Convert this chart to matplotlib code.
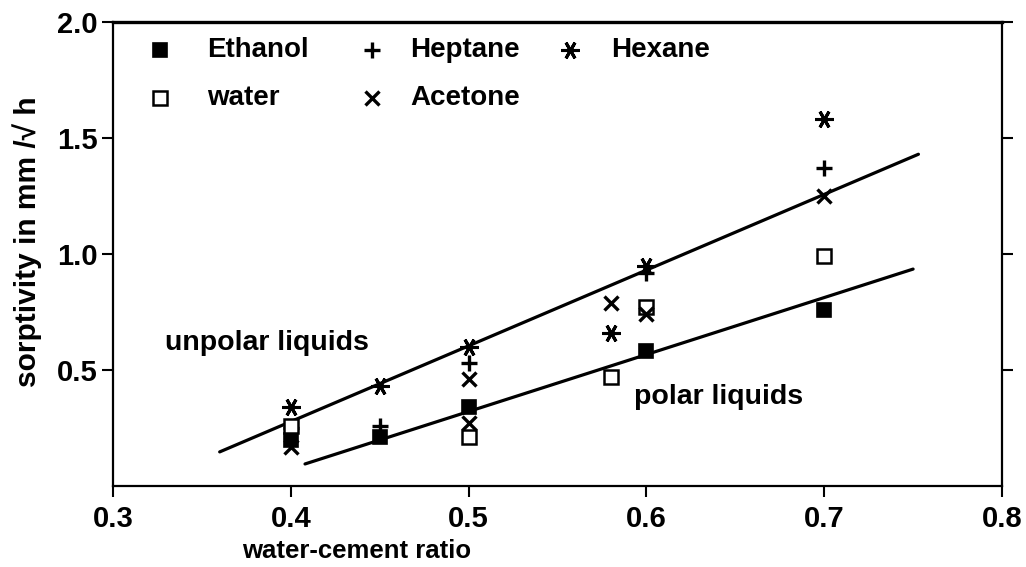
import matplotlib
matplotlib.use("Agg")
import matplotlib.pyplot as plt

plt.rcParams['font.family'] = ['Liberation Sans', 'DejaVu Sans']
plt.rcParams['font.weight'] = 'bold'

# ---- data ----
ethanol_x = [0.40, 0.45, 0.50, 0.60, 0.70]
ethanol_y = [0.20, 0.21, 0.34, 0.58, 0.76]

heptane_x = [0.40, 0.45, 0.50, 0.60, 0.70]
heptane_y = [0.25, 0.26, 0.53, 0.92, 1.37]

hexane_x = [0.40, 0.45, 0.50, 0.58, 0.60, 0.70]
hexane_y = [0.34, 0.43, 0.60, 0.66, 0.95, 1.58]

water_x = [0.40, 0.50, 0.58, 0.60, 0.70]
water_y = [0.26, 0.21, 0.47, 0.77, 0.99]

acetone_x = [0.40, 0.50, 0.50, 0.58, 0.60, 0.70]
acetone_y = [0.17, 0.46, 0.27, 0.79, 0.74, 1.25]

unpolar_line_x = [0.360, 0.753]
unpolar_line_y = [0.147, 1.430]
polar_line_x = [0.408, 0.750]
polar_line_y = [0.095, 0.935]

x_ticks = [0.3, 0.4, 0.5, 0.6, 0.7, 0.8]
y_ticks = [0.5, 1.0, 1.5, 2.0]

# ---- figure ----
fig = plt.figure(figsize=(10.26, 5.67), dpi=100)
ax = fig.add_axes([113/1026, 1 - 486/567, 889/1026, 464/567])

ax.plot(unpolar_line_x, unpolar_line_y, color='black', lw=2.3, solid_capstyle='round')
ax.plot(polar_line_x, polar_line_y, color='black', lw=2.3, solid_capstyle='round')

series = [
    ("Ethanol", ethanol_x, ethanol_y, dict(marker='s', mfc='black', mec='black', ms=9.5, mew=1.2)),
    ("Heptane", heptane_x, heptane_y, dict(marker='+', mfc='none', mec='black', ms=12, mew=2.4)),
    ("Hexane", hexane_x, hexane_y, dict(marker=(6, 2, 90), mfc='none', mec='black', ms=13, mew=2.2)),
    ("water", water_x, water_y, dict(marker='s', mfc='white', mec='black', ms=9.5, mew=1.8)),
    ("Acetone", acetone_x, acetone_y, dict(marker='x', mfc='none', mec='black', ms=10, mew=2.4)),
]
styles = {}
for name, xs, ys, st in series:
    ax.plot(xs, ys, linestyle='none', zorder=3, **st)
    styles[name] = st

# manual legend (layout positions in axes fraction)
legend_layout = [
    ("Ethanol", 0.053, 0.106, 0.940),
    ("Heptane", 0.291, 0.334, 0.940),
    ("Hexane", 0.514, 0.560, 0.940),
    ("water", 0.053, 0.106, 0.836),
    ("Acetone", 0.291, 0.334, 0.836),
]
for name, mx, tx, ty in legend_layout:
    st = dict(styles[name])
    ax.plot([mx], [ty], transform=ax.transAxes, linestyle='none', clip_on=False, **st)
    ax.text(tx, ty, name, transform=ax.transAxes, fontsize=20, fontweight='bold',
            va='center', ha='left')

ax.text(0.329, 0.616, "unpolar liquids", fontsize=20.5, fontweight='bold', va='center', ha='left')
ax.text(0.593, 0.384, "polar liquids", fontsize=20.5, fontweight='bold', va='center', ha='left')

ax.set_xlim(0.3, 0.8)
ax.set_ylim(0.0, 2.0)
ax.set_xticks(x_ticks)
ax.set_xticklabels([f"{t:.1f}" for t in x_ticks])
ax.set_yticks(y_ticks)
ax.set_yticklabels([f"{t:.1f}" for t in y_ticks])

ax.tick_params(axis='both', direction='out', length=8, width=1.5, labelsize=21, pad=3)
ax.tick_params(axis='x', pad=6)
ax.tick_params(axis='y', right=True, labelright=False)
for lab in ax.get_xticklabels() + ax.get_yticklabels():
    lab.set_fontweight('bold')

for s in ['left', 'right', 'bottom']:
    ax.spines[s].set_linewidth(1.6)
ax.spines['top'].set_linewidth(2.4)

fig.text(27/1026, 1 - 242/567, "sorptivity in mm /√ h", fontsize=21.5, fontweight='bold',
         rotation=90, ha='center', va='center')
fig.text(357/1026, 1 - 551/567, "water-cement ratio", fontsize=18.5, fontweight='bold',
         ha='center', va='center')

fig.savefig("out.png", dpi=100)
